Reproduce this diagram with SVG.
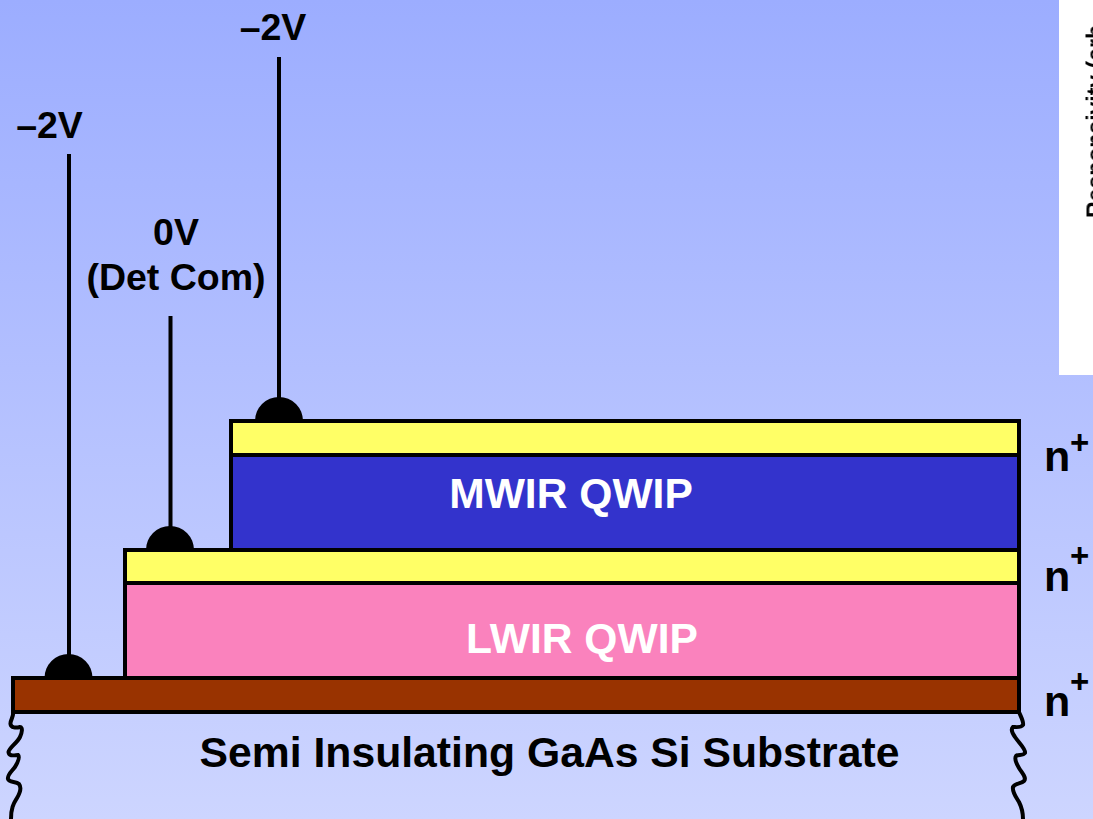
<svg xmlns="http://www.w3.org/2000/svg" width="1093" height="819" viewBox="0 0 1093 819">
<defs>
<linearGradient id="bg" x1="0" y1="0" x2="0" y2="1"><stop offset="0" stop-color="#9cadff"/><stop offset="1" stop-color="#cdd5ff"/></linearGradient>
<filter id="blur" x="-20%" y="-20%" width="140%" height="140%"><feGaussianBlur stdDeviation="0.7"/></filter>
</defs>
<style>
text{font-family:"Liberation Sans",Arial,sans-serif;font-weight:bold;fill:#000}
.t{font-size:37.500px;text-anchor:middle}
.w{fill:#fff;font-size:42.600px;text-anchor:middle}
.s{font-size:42.700px;text-anchor:middle}
.n{font-size:43px}
.p{font-size:33px}
.layer{stroke:#000;stroke-width:4}
.wire{stroke:#000;stroke-width:4;fill:none}
.sq{stroke:#000;stroke-width:4;fill:none;stroke-linecap:round}
</style>
<rect width="1093" height="819" fill="url(#bg)"/>
<g id="inset">
<rect x="1059" y="0" width="34" height="375" fill="#fff"/>
<text transform="translate(1103.500 218) rotate(-90)" font-size="23" filter="url(#blur)">Responsivity (arb</text>
</g>
<g id="connectors">
<line class="wire" x1="69" y1="154" x2="69" y2="660"/>
<line class="wire" x1="170.500" y1="316" x2="170.500" y2="532"/>
<line class="wire" x1="279" y1="57" x2="279" y2="404"/>
<path class="sq" d="M13 712C14 717 10 720 10.500 724C11 728 16 728 20 727C23 727 22 733 20 737C17 743 9 748 8.500 752C9 757 15 755 18 755C20 757 18 762 15 767C12 771 7 775 8 779C9 783 16 781 19 784C22 788 20 793 17 798C14 803 11 807 11 819"/>
<path class="sq" d="M1019 712C1021 717 1024 722 1023 725C1021 728 1016 727 1013 727C1011 729 1012 733 1015 737C1019 743 1026 749 1025 753C1023 756 1018 754 1016 756C1014 759 1016 763 1019 768C1022 773 1027 778 1024 781C1021 784 1015 783 1013 787C1012 792 1016 797 1019 802C1021 806 1023 812 1023 819"/>
</g>
<g id="substrate"><text class="s" x="549.500" y="767">Semi Insulating GaAs Si Substrate</text></g>
<g id="contact-bottom"><path d="M44.500 678a24 24 0 0 1 48 0z"/></g>
<g id="contact-middle"><path d="M146 550a24 24 0 0 1 48 0z"/></g>
<g id="contact-top"><path d="M255 421a24 24 0 0 1 48 0z"/></g>
<g id="n-layer-bottom"><rect class="layer" x="13" y="678" width="1006" height="34" fill="#993300"/></g>
<g id="lwir"><rect class="layer" x="125" y="583" width="894" height="95" fill="#fa82bd"/><text class="w" x="582" y="653">LWIR QWIP</text></g>
<g id="n-layer-middle"><rect class="layer" x="125" y="550" width="894" height="33" fill="#ffff66"/></g>
<g id="mwir"><rect class="layer" x="231" y="455" width="788" height="95" fill="#3333cc"/><text class="w" x="571" y="508">MWIR QWIP</text></g>
<g id="n-layer-top"><rect class="layer" x="231" y="421" width="788" height="34" fill="#ffff66"/></g>
<g id="label-v1"><text class="t" x="49.500" y="138">–2V</text></g>
<g id="label-v2"><text class="t" x="176" y="245">0V</text><text class="t" x="176" y="290">(Det Com)</text></g>
<g id="label-v3"><text class="t" x="273" y="40">–2V</text></g>
<g id="label-n1"><text class="n" x="1044" y="471">n</text><text class="p" x="1070" y="454">+</text></g>
<g id="label-n2"><text class="n" x="1044" y="591">n</text><text class="p" x="1070" y="567">+</text></g>
<g id="label-n3"><text class="n" x="1044" y="716">n</text><text class="p" x="1070" y="693">+</text></g>
</svg>
